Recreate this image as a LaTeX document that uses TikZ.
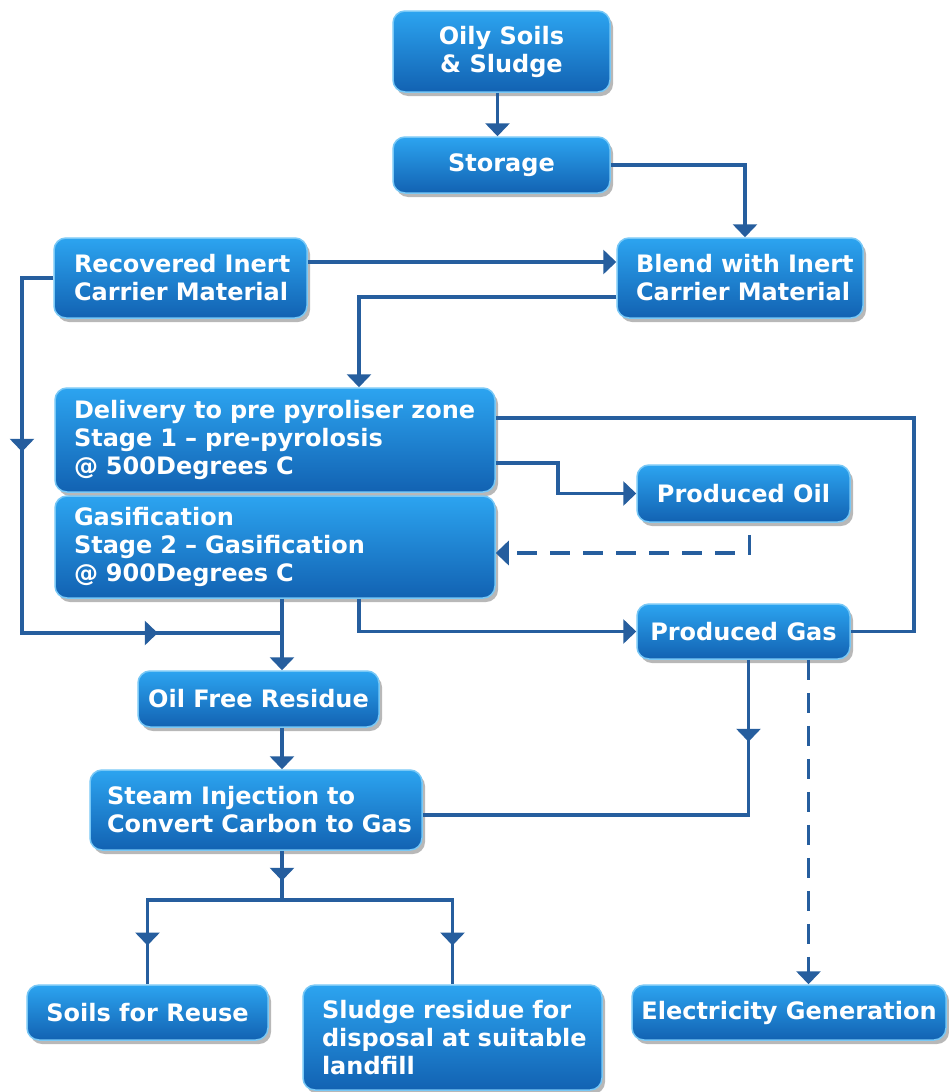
\documentclass[tikz,border=0pt]{standalone}
\usepackage{fontspec}
\newfontfamily\flowfont{DejaVu Sans}
\usetikzlibrary{arrows.meta,calc,shadows,decorations.markings}

\definecolor{linkblue}{RGB}{38,94,158}
\definecolor{boxtop}{RGB}{44,164,240}
\definecolor{boxbot}{RGB}{18,98,178}
\definecolor{boxrim}{RGB}{120,200,246}

\tikzset{
  flowbox/.style={rounded corners=12pt, top color=boxtop, bottom color=boxbot,
    draw=boxrim, line width=1.5pt, text=white, inner sep=0pt,
    font=\flowfont\bfseries\fontsize{24}{28}\selectfont,
    drop shadow={shadow xshift=3pt, shadow yshift=-4pt, fill=black, opacity=0.28}},
  conn/.style={draw=linkblue, line width=3.6pt},
  tip/.style={-{Triangle[width=24pt,length=13pt]}},
  dashline/.style={dash pattern=on 20pt off 13pt},
  mid/.style={postaction={decorate, decoration={markings,
    mark=at position #1 with {\arrow[color=linkblue]{Triangle[width=24pt,length=13pt]}}}}}
}

\begin{document}
\begin{tikzpicture}[x=1pt,y=-1pt]
  \useasboundingbox (0,0) rectangle (949,1092);
  \fill[white] (0,0) rectangle (949,1092);

  % process boxes
  \node[flowbox, minimum width=217pt, minimum height=81pt, align=center] (oily) at (501.5,51.5) {Oily Soils\\\& Sludge};
  \node[flowbox, minimum width=217pt, minimum height=56pt] (store) at (501.5,165) {Storage};
  \node[flowbox, minimum width=253pt, minimum height=80pt, align=left, text width=213pt] (rec) at (180.5,278) {\mbox{Recovered Inert}\\\mbox{Carrier Material}};
  \node[flowbox, minimum width=246pt, minimum height=80pt, align=left, text width=208pt] (blend) at (740,278) {\mbox{Blend with Inert}\\\mbox{Carrier Material}};
  \node[flowbox, minimum width=440pt, minimum height=104pt, align=left, text width=402pt] (deliv) at (275,440) {\mbox{Delivery to pre pyroliser zone}\\\mbox{Stage 1 – pre-pyrolosis}\\\mbox{@ 500Degrees C}};
  \node[flowbox, minimum width=440pt, minimum height=102pt, align=left, text width=402pt] (gasif) at (275,547) {\mbox{Gasification}\\\mbox{Stage 2 – Gasification}\\\mbox{@ 900Degrees C}};
  \node[flowbox, minimum width=213pt, minimum height=57pt] (oil) at (743.5,493.5) {Produced Oil};
  \node[flowbox, minimum width=213pt, minimum height=55pt] (gas) at (743.5,631.5) {Produced Gas};
  \node[flowbox, minimum width=241pt, minimum height=56pt] (ofr) at (258.5,699) {Oil Free Residue};
  \node[flowbox, minimum width=332pt, minimum height=80pt, align=left, text width=298pt] (steam) at (256,810) {\mbox{Steam Injection to}\\\mbox{Convert Carbon to Gas}};
  \node[flowbox, minimum width=241pt, minimum height=55pt] (soil) at (147.5,1012.5) {Soils for Reuse};
  \node[flowbox, minimum width=299pt, minimum height=105pt, align=left, text width=261pt] (sludge) at (452.5,1037.5) {\mbox{Sludge residue for}\\\mbox{disposal at suitable}\\\mbox{landfill}};
  \node[flowbox, minimum width=314pt, minimum height=55pt] (elec) at (789,1012.5) {Electricity Generation};

  % routing points
  \coordinate (lA) at (22,278);
  \coordinate (lB) at (22,633);
  \coordinate (jn) at (282,633);
  \coordinate (split) at (282,900);
  \coordinate (eg) at ($(gas.south)+(65,0)$);

  % connectors
  \draw[conn,tip] ($(oily.south)+(-4,0)$) -- ($(store.north)+(-4,0)$);
  \draw[conn,tip] (store.east) -| ($(blend.north)+(5,0)$);
  \draw[conn,tip] ($(rec.east)+(0,-16)$) -- ($(blend.west)+(0,-16)$);
  \draw[conn,tip] ($(blend.west)+(0,19)$) -| ($(deliv.north)+(84,0)$);
  \draw[conn,mid=205pt,mid=522pt] (rec.west) -- (lA) -- (lB) -- (jn);
  \draw[conn,tip] ($(gasif.south)+(7,0)$) -- (jn) -- (jn |- ofr.north);
  \draw[conn,tip] (jn |- ofr.south) -- (jn |- steam.north);
  \draw[conn,mid=30pt] (jn |- steam.south) -- (split);
  \draw[conn,mid=180pt] (split) -| (soil.north);
  \draw[conn,mid=216pt] (split) -| (sludge.north);
  \draw[conn,tip] ($(gasif.south)+(84,0)$) |- (gas.west);
  \draw[conn,tip] ($(deliv.east)+(0,23)$) -| ($(oil.west)+(-78,0)$) -- (oil.west);
  \draw[conn] ($(deliv.east)+(0,-22)$) -| ($(gas.east)+(63,0)$) -- (gas.east);
  \draw[conn,dashline,tip] ($(oil.south)+(6,12)$) |- ($(gasif.east)+(0,6)$);
  \draw[conn,mid=82pt] ($(gas.south)+(5,0)$) |- ($(steam.east)+(0,5)$);
  \draw[conn,dashline,tip] (eg) -- (eg |- elec.north);
\end{tikzpicture}
\end{document}
